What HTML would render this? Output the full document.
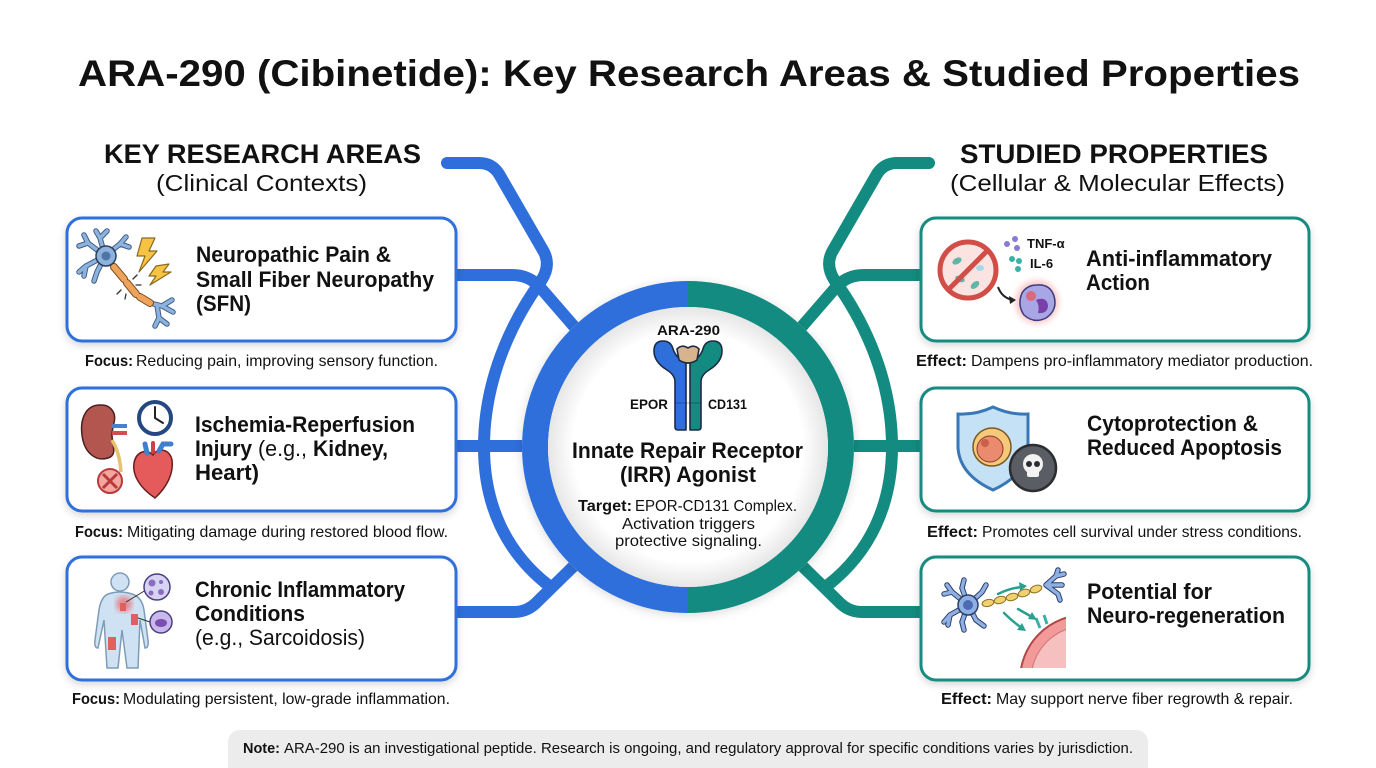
<!DOCTYPE html>
<html><head><meta charset="utf-8"><style>
html,body{margin:0;padding:0;background:#fff;}
svg{display:block;font-family:"Liberation Sans",Arial,sans-serif;}
</style></head><body>
<svg width="1376" height="768" viewBox="0 0 1376 768" xmlns="http://www.w3.org/2000/svg">
<defs>
<filter id="sh" x="-10%" y="-10%" width="120%" height="130%"><feDropShadow dx="0" dy="3" stdDeviation="4" flood-color="#000" flood-opacity="0.16"/></filter>
<filter id="sh2" x="-20%" y="-20%" width="140%" height="140%"><feDropShadow dx="0" dy="2" stdDeviation="5" flood-color="#000" flood-opacity="0.15"/></filter>
<filter id="blur"><feGaussianBlur stdDeviation="3"/></filter>
<radialGradient id="disk" cx="50%" cy="50%" r="50%"><stop offset="0.82" stop-color="#fff"/><stop offset="1" stop-color="#e6e6e6"/></radialGradient>
<clipPath id="mclip"><rect x="1016" y="610" width="50" height="58"/></clipPath>
</defs>
<rect width="1376" height="768" fill="#fff"/>

<!-- Title -->
<text x="78" y="86" font-size="37" font-weight="700" fill="#111" textLength="1222" lengthAdjust="spacingAndGlyphs">ARA-290 (Cibinetide): Key Research Areas &amp; Studied Properties</text>

<!-- Section headers -->
<text x="104" y="163" font-size="27" font-weight="700" fill="#111" textLength="317" lengthAdjust="spacingAndGlyphs">KEY RESEARCH AREAS</text>
<text x="156" y="191" font-size="23" fill="#111" textLength="211" lengthAdjust="spacingAndGlyphs">(Clinical Contexts)</text>
<text x="960" y="163" font-size="27" font-weight="700" fill="#111" textLength="308" lengthAdjust="spacingAndGlyphs">STUDIED PROPERTIES</text>
<text x="950" y="191" font-size="23" fill="#111" textLength="335" lengthAdjust="spacingAndGlyphs">(Cellular &amp; Molecular Effects)</text>

<!-- Connectors left -->
<g id="conL" fill="none" stroke="#2f6fdc" stroke-width="12" stroke-linecap="round" stroke-linejoin="round">
  <path d="M447 163 L479 163 Q492 163 499 174 L544 252 Q551 266 541 281 C520 310 484 370 484 447 C484 505 506 552 548 585"/>
  <path d="M450 275 L512 275 Q528 275 539 286 L584 338" stroke-linecap="butt"/>
  <path d="M450 446 L545 446" stroke-linecap="butt"/>
  <path d="M450 612 L514 612 Q528 612 538 601 L584 556" stroke-linecap="butt"/>
</g>
<!-- Connectors right (mirrored) -->
<g transform="translate(1376,0) scale(-1,1)" fill="none" stroke="#138b80" stroke-width="12" stroke-linecap="round" stroke-linejoin="round">
  <path d="M447 163 L479 163 Q492 163 499 174 L544 252 Q551 266 541 281 C520 310 484 370 484 447 C484 505 506 552 548 585"/>
  <path d="M450 275 L512 275 Q528 275 539 286 L584 338" stroke-linecap="butt"/>
  <path d="M450 446 L545 446" stroke-linecap="butt"/>
  <path d="M450 612 L514 612 Q528 612 538 601 L584 556" stroke-linecap="butt"/>
</g>

<!-- Central ring -->
<circle cx="688" cy="447" r="166" fill="#fff" filter="url(#sh2)"/>
<path d="M688 294 A153 153 0 0 0 688 600" fill="none" stroke="#2f6fdc" stroke-width="26"/>
<path d="M688 294 A153 153 0 0 1 688 600" fill="none" stroke="#138b80" stroke-width="26"/>
<circle cx="688" cy="447" r="140" fill="url(#disk)"/>

<!-- Receptor icon -->
<g stroke="#1c2b45" stroke-width="1.6" stroke-linejoin="round">
  <path d="M686 430 L678 430 Q675 430 675 427 L675 382 Q675 375 667 370 Q654 362 654 351 Q654 341 663 341 Q671 341 673 349 Q676 358 686 363 Z" fill="#2f6fdc"/>
  <path d="M690 430 L698 430 Q701 430 701 427 L701 382 Q701 375 709 370 Q722 362 722 351 Q722 341 713 341 Q705 341 703 349 Q700 358 690 363 Z" fill="#138b80"/>
  <path d="M677 349 Q682 344 688 348 Q694 344 699 349 L697 360 Q688 366 679 360 Z" fill="#d8b48e"/>
</g>
<line x1="675" y1="403" x2="701" y2="403" stroke="#1c2b45" stroke-width="0.8" opacity="0.6"/>
<text x="657" y="335" font-size="14" font-weight="700" fill="#111" textLength="63" lengthAdjust="spacingAndGlyphs">ARA-290</text>
<text x="630" y="409" font-size="14" font-weight="700" fill="#111" textLength="38" lengthAdjust="spacingAndGlyphs">EPOR</text>
<text x="708" y="409" font-size="14" font-weight="700" fill="#111" textLength="39" lengthAdjust="spacingAndGlyphs">CD131</text>
<text x="572" y="458" font-size="22" font-weight="700" fill="#111" textLength="231" lengthAdjust="spacingAndGlyphs">Innate Repair Receptor</text>
<text x="620" y="482" font-size="22" font-weight="700" fill="#111" textLength="136" lengthAdjust="spacingAndGlyphs">(IRR) Agonist</text>
<text x="578" y="511" font-size="16" font-weight="700" fill="#111" textLength="54" lengthAdjust="spacingAndGlyphs">Target:</text>
<text x="635" y="511" font-size="16" fill="#111" textLength="162" lengthAdjust="spacingAndGlyphs">EPOR-CD131 Complex.</text>
<text x="622" y="529" font-size="16" fill="#111" textLength="133" lengthAdjust="spacingAndGlyphs">Activation triggers</text>
<text x="615" y="546" font-size="16" fill="#111" textLength="147" lengthAdjust="spacingAndGlyphs">protective signaling.</text>

<!-- Left cards -->
<g fill="#fff" stroke="#2f6fdc" stroke-width="3">
  <rect x="67" y="218" width="389" height="123" rx="15" filter="url(#sh)"/>
  <rect x="67" y="388" width="389" height="123" rx="15" filter="url(#sh)"/>
  <rect x="67" y="557" width="389" height="123" rx="15" filter="url(#sh)"/>
</g>
<!-- Right cards -->
<g fill="#fff" stroke="#138b80" stroke-width="3">
  <rect x="921" y="218" width="388" height="123" rx="15" filter="url(#sh)"/>
  <rect x="921" y="388" width="388" height="123" rx="15" filter="url(#sh)"/>
  <rect x="921" y="557" width="388" height="123" rx="15" filter="url(#sh)"/>
</g>

<!-- Left card texts -->
<g fill="#111" font-weight="700" font-size="22">
  <text x="196" y="262" textLength="195" lengthAdjust="spacingAndGlyphs">Neuropathic Pain &amp;</text>
  <text x="196" y="287" textLength="238" lengthAdjust="spacingAndGlyphs">Small Fiber Neuropathy</text>
  <text x="196" y="311" textLength="55" lengthAdjust="spacingAndGlyphs">(SFN)</text>
  <text x="195" y="432" textLength="220" lengthAdjust="spacingAndGlyphs">Ischemia-Reperfusion</text>
  <text x="195" y="456" textLength="57" lengthAdjust="spacingAndGlyphs">Injury</text>
  <text x="258" y="456" font-weight="400" textLength="49" lengthAdjust="spacingAndGlyphs">(e.g.,</text>
  <text x="313" y="456" textLength="75" lengthAdjust="spacingAndGlyphs">Kidney,</text>
  <text x="195" y="480" textLength="64" lengthAdjust="spacingAndGlyphs">Heart)</text>
  <text x="195" y="597" textLength="210" lengthAdjust="spacingAndGlyphs">Chronic Inflammatory</text>
  <text x="195" y="621" textLength="110" lengthAdjust="spacingAndGlyphs">Conditions</text>
  <text x="195" y="645" font-weight="400" textLength="170" lengthAdjust="spacingAndGlyphs">(e.g., Sarcoidosis)</text>
</g>
<!-- Right card texts -->
<g fill="#111" font-weight="700" font-size="22">
  <text x="1086" y="266" textLength="186" lengthAdjust="spacingAndGlyphs">Anti-inflammatory</text>
  <text x="1086" y="290" textLength="64" lengthAdjust="spacingAndGlyphs">Action</text>
  <text x="1087" y="431" textLength="171" lengthAdjust="spacingAndGlyphs">Cytoprotection &amp;</text>
  <text x="1087" y="455" textLength="195" lengthAdjust="spacingAndGlyphs">Reduced Apoptosis</text>
  <text x="1087" y="599" textLength="125" lengthAdjust="spacingAndGlyphs">Potential for</text>
  <text x="1087" y="623" textLength="198" lengthAdjust="spacingAndGlyphs">Neuro-regeneration</text>
</g>

<!-- Focus / Effect lines -->
<g fill="#111" font-size="16">
  <text x="85" y="366" font-weight="700" textLength="48" lengthAdjust="spacingAndGlyphs">Focus:</text>
  <text x="136" y="366" textLength="302" lengthAdjust="spacingAndGlyphs">Reducing pain, improving sensory function.</text>
  <text x="75" y="537" font-weight="700" textLength="48" lengthAdjust="spacingAndGlyphs">Focus:</text>
  <text x="127" y="537" textLength="321" lengthAdjust="spacingAndGlyphs">Mitigating damage during restored blood flow.</text>
  <text x="72" y="704" font-weight="700" textLength="48" lengthAdjust="spacingAndGlyphs">Focus:</text>
  <text x="123" y="704" textLength="327" lengthAdjust="spacingAndGlyphs">Modulating persistent, low-grade inflammation.</text>
  <text x="916" y="366" font-weight="700" textLength="51" lengthAdjust="spacingAndGlyphs">Effect:</text>
  <text x="971" y="366" textLength="342" lengthAdjust="spacingAndGlyphs">Dampens pro-inflammatory mediator production.</text>
  <text x="927" y="537" font-weight="700" textLength="51" lengthAdjust="spacingAndGlyphs">Effect:</text>
  <text x="982" y="537" textLength="320" lengthAdjust="spacingAndGlyphs">Promotes cell survival under stress conditions.</text>
  <text x="941" y="704" font-weight="700" textLength="51" lengthAdjust="spacingAndGlyphs">Effect:</text>
  <text x="996" y="704" textLength="297" lengthAdjust="spacingAndGlyphs">May support nerve fiber regrowth &amp; repair.</text>
</g>

<!-- Note box -->
<rect x="228" y="730" width="920" height="60" rx="12" fill="#ececec"/>
<text x="243" y="753" font-size="15" font-weight="700" fill="#111" textLength="37" lengthAdjust="spacingAndGlyphs">Note:</text>
<text x="284" y="753" font-size="15" fill="#111" textLength="849" lengthAdjust="spacingAndGlyphs">ARA-290 is an investigational peptide. Research is ongoing, and regulatory approval for specific conditions varies by jurisdiction.</text>

<!-- ICON L1: neuron with pain -->
<g stroke-linecap="round" stroke-linejoin="round" fill="none">
  <g stroke="#3d5f8c" stroke-width="5.5">
    <path d="M105 256 L88 243 L84 235 M88 243 L79 246 M105 256 L100 238 L96 231 M100 238 L107 231 M105 256 L120 244 L126 237 M120 244 L129 247 M105 256 L86 266 L79 272 M86 266 L84 276 M105 256 L97 272 L94 281"/>
    <path d="M150 303 L162 306 L172 300 M162 306 L173 312 M157 305 L159 318 L155 326 M159 318 L167 324"/>
  </g>
  <g stroke="#8db3dc" stroke-width="3.5">
    <path d="M105 256 L88 243 L84 235 M88 243 L79 246 M105 256 L100 238 L96 231 M100 238 L107 231 M105 256 L120 244 L126 237 M120 244 L129 247 M105 256 L86 266 L79 272 M86 266 L84 276 M105 256 L97 272 L94 281"/>
    <path d="M150 303 L162 306 L172 300 M162 306 L173 312 M157 305 L159 318 L155 326 M159 318 L167 324"/>
  </g>
  <g stroke="#7a4a20" stroke-width="8"><path d="M114 267 L124 279 M127 283 L136 294 M140 297 L150 303"/></g>
  <g stroke="#eea35a" stroke-width="6"><path d="M114 267 L124 279 M127 283 L136 294 M140 297 L150 303"/></g>
  <path d="M121 290 L117 294 M126 294 L125 299 M133 279 L137 275 M136 285 L141 285" stroke="#333" stroke-width="1.3"/>
</g>
<circle cx="106" cy="256" r="10" fill="#8db3dc" stroke="#2c3e5a" stroke-width="1.5"/>
<circle cx="106" cy="256" r="4.5" fill="#4f74a8"/>
<polygon points="142,238 155,238 149,251 157,251 139,272 145,256 137,256" fill="#f6c342" stroke="#8a6a20" stroke-width="1.2" stroke-linejoin="round"/>
<polygon points="156,266 169,264 163,272 171,272 150,285 156,276 149,276" fill="#f6c342" stroke="#8a6a20" stroke-width="1.2" stroke-linejoin="round"/>

<!-- ICON L2: kidney, clock, X, heart -->
<path d="M100 405 C85 405 80 420 82 435 C84 452 95 462 108 458 C118 455 112 445 112 435 C112 425 118 418 112 410 C108 405 104 405 100 405 Z" fill="#b3564f" stroke="#4a2020" stroke-width="1.5"/>
<path d="M112 440 C118 450 120 460 121 472" fill="none" stroke="#e8c170" stroke-width="3.5"/>
<path d="M112 426 L127 426" stroke="#4a7fd0" stroke-width="4"/>
<path d="M112 433 L127 433" stroke="#d05050" stroke-width="4"/>
<circle cx="155" cy="418" r="16" fill="#fff" stroke="#24487f" stroke-width="4"/>
<path d="M155 418 L155 407 M155 418 L163 423" stroke="#222" stroke-width="2" stroke-linecap="round"/>
<circle cx="110" cy="481" r="12" fill="#f4a6a0" stroke="#b83a3a" stroke-width="2"/>
<path d="M103 474 L117 488 M117 474 L103 488" stroke="#b83a3a" stroke-width="3"/>
<path d="M155 498 C140 488 132 475 134 463 C136 452 146 448 153 455 C158 447 170 449 172 460 C174 474 166 488 155 498 Z" fill="#e55a5a" stroke="#6a1f1f" stroke-width="1.5"/>
<path d="M147 453 L145 444 M159 451 L163 444 L171 444" stroke="#3f7fd0" stroke-width="5" fill="none" stroke-linecap="round"/>
<path d="M153 452 L153 443" stroke="#d04040" stroke-width="4" stroke-linecap="round"/>

<!-- ICON L3: body & cells -->
<circle cx="120" cy="582" r="9" fill="#cfe2f3" stroke="#7d9cb8" stroke-width="1.5"/>
<path d="M108 594 Q120 590 132 594 Q142 597 144 610 L148 640 Q149 648 145 648 L140 620 L138 668 L127 668 L122 630 L118 668 L107 668 L104 620 L98 648 Q94 648 95 640 L99 610 Q101 597 108 594 Z" fill="#cfe2f3" stroke="#7d9cb8" stroke-width="1.5"/>
<circle cx="124" cy="604" r="8" fill="#f04040" opacity="0.55" filter="url(#blur)"/>
<rect x="120" y="603" width="6" height="8" fill="#e06060"/>
<rect x="131" y="614" width="7" height="11" fill="#e06060"/>
<rect x="108" y="637" width="8" height="13" fill="#e06060"/>
<path d="M126 602 L146 590 M138 618 L150 622" stroke="#333" stroke-width="1"/>
<circle cx="157" cy="587" r="13" fill="#d6d3f3" stroke="#4a3f80" stroke-width="1.5"/>
<circle cx="152" cy="583" r="3.5" fill="#8a6cc0"/><circle cx="161" cy="592" r="3" fill="#8a6cc0"/><circle cx="161" cy="582" r="2" fill="#8a6cc0"/><circle cx="151" cy="593" r="2.5" fill="#8a6cc0"/>
<circle cx="161" cy="622" r="11" fill="#c9b8ec" stroke="#4a3f80" stroke-width="1.5"/>
<ellipse cx="161" cy="623" rx="6" ry="4" fill="#7b4fb0"/>

<!-- ICON R1: anti-inflammatory -->
<circle cx="968" cy="270" r="28" fill="#fbe3e1" stroke="#d14d48" stroke-width="5"/>
<ellipse cx="957" cy="261" rx="5" ry="3" fill="#5fb5a8" transform="rotate(-30 957 261)"/>
<ellipse cx="960" cy="279" rx="5" ry="3" fill="#5fb5a8" transform="rotate(20 960 279)"/>
<ellipse cx="975" cy="285" rx="5" ry="3" fill="#5fb5a8" transform="rotate(-40 975 285)"/>
<ellipse cx="980" cy="268" rx="4" ry="3" fill="#a8d8e8"/>
<line x1="988" y1="250" x2="948" y2="290" stroke="#d14d48" stroke-width="5"/>
<circle cx="1007" cy="244" r="3" fill="#8a7ad0"/><circle cx="1015" cy="239" r="3" fill="#8a7ad0"/><circle cx="1017" cy="248" r="3" fill="#8a7ad0"/>
<circle cx="1012" cy="259" r="3" fill="#3bb0a8"/><circle cx="1019" cy="261" r="3" fill="#3bb0a8"/><circle cx="1018" cy="269" r="3" fill="#3bb0a8"/>
<text x="1027" y="248" font-size="13" font-weight="700" fill="#111">TNF-α</text>
<text x="1030" y="268" font-size="13" font-weight="700" fill="#111">IL-6</text>
<circle cx="1037" cy="302" r="22" fill="#f59a9a" opacity="0.5" filter="url(#blur)"/>
<path d="M1037 285 Q1050 284 1054 296 Q1058 310 1046 318 Q1034 324 1024 315 Q1017 305 1022 293 Q1027 285 1037 285 Z" fill="#a9a6e6" stroke="#3d3a7a" stroke-width="1.5"/>
<path d="M1036 300 Q1046 296 1048 305 Q1048 314 1038 313 Q1040 306 1036 300 Z" fill="#7b3fa8"/>
<circle cx="1031" cy="296" r="5" fill="#f05050" opacity="0.7"/>
<path d="M998 287 Q1002 298 1013 300" fill="none" stroke="#222" stroke-width="2"/>
<polygon points="1016,300 1009,296 1010,304" fill="#222"/>

<!-- ICON R2: shield, cell, skull -->
<path d="M993 407 Q1010 415 1028 414 L1028 448 Q1026 475 993 490 Q960 475 958 448 L958 414 Q976 415 993 407 Z" fill="#c4e1f5" stroke="#3a78b5" stroke-width="3"/>
<circle cx="992" cy="447" r="19" fill="#f6c87a" stroke="#7a5a20" stroke-width="1.5"/>
<circle cx="990" cy="449" r="13" fill="#ea8a6e" stroke="#8a3a2a" stroke-width="1"/>
<circle cx="985" cy="443" r="4" fill="#c8604a"/>
<circle cx="1033" cy="468" r="23" fill="#5a5d63" stroke="#2b2d31" stroke-width="2.5"/>
<circle cx="1033" cy="464" r="10" fill="#f2f2f2"/>
<rect x="1027" y="469" width="12" height="8" rx="2" fill="#f2f2f2"/>
<circle cx="1029" cy="464" r="3" fill="#2b2d31"/><circle cx="1037" cy="464" r="3" fill="#2b2d31"/>

<!-- ICON R3: neuron regeneration -->
<g stroke-linecap="round" fill="none">
  <g stroke="#2c3e6a" stroke-width="5.5"><path d="M968 605 L952 592 L947 585 M952 592 L944 594 M968 605 L962 588 L964 580 M968 605 L982 592 L986 585 M968 605 L950 615 L944 622 M950 615 L948 625 M968 605 L962 622 L964 630 M968 605 L976 620 L984 626"/>
  <path d="M1046 585 L1056 576 L1058 570 M1056 576 L1064 574 M1046 585 L1062 585 M1046 585 L1058 594 L1060 600"/></g>
  <g stroke="#8fb0e2" stroke-width="3.5"><path d="M968 605 L952 592 L947 585 M952 592 L944 594 M968 605 L962 588 L964 580 M968 605 L982 592 L986 585 M968 605 L950 615 L944 622 M950 615 L948 625 M968 605 L962 622 L964 630 M968 605 L976 620 L984 626"/>
  <path d="M1046 585 L1056 576 L1058 570 M1056 576 L1064 574 M1046 585 L1062 585 M1046 585 L1058 594 L1060 600"/></g>
</g>
<circle cx="968" cy="605" r="10" fill="#8fb0e2" stroke="#2c3e6a" stroke-width="1.5"/>
<circle cx="968" cy="605" r="5" fill="#4d6bb5"/>
<g fill="#f0d070" stroke="#8a7020" stroke-width="1">
  <ellipse cx="988" cy="603" rx="6" ry="3.5" transform="rotate(-12 988 603)"/>
  <ellipse cx="1000" cy="600" rx="6" ry="3.5" transform="rotate(-15 1000 600)"/>
  <ellipse cx="1012" cy="597" rx="6" ry="3.5" transform="rotate(-15 1012 597)"/>
  <ellipse cx="1024" cy="593" rx="6" ry="3.5" transform="rotate(-18 1024 593)"/>
  <ellipse cx="1036" cy="589" rx="6" ry="3.5" transform="rotate(-20 1036 589)"/>
</g>
<g clip-path="url(#mclip)">
  <circle cx="1085" cy="680" r="65" fill="#f29a9a" stroke="#b04848" stroke-width="2"/>
  <circle cx="1085" cy="680" r="54" fill="#f6c0c0" stroke="#d07070" stroke-width="1"/>
</g>
<path d="M1036 618 L1040 628 M1044 615 L1047 624" stroke="#3bb0a8" stroke-width="3"/>
<g fill="none" stroke="#2aa08f" stroke-width="2.5" stroke-linecap="round">
  <path d="M998 594 Q1010 588 1022 587"/><path d="M1018 609 L1032 617"/><path d="M1004 613 Q1013 622 1022 628"/>
</g>
<g fill="#2aa08f"><polygon points="1027,586 1019,582 1020,591"/><polygon points="1037,620 1028,619 1032,612"/><polygon points="1026,631 1017,630 1022,623"/></g>
</svg>
</body></html>
